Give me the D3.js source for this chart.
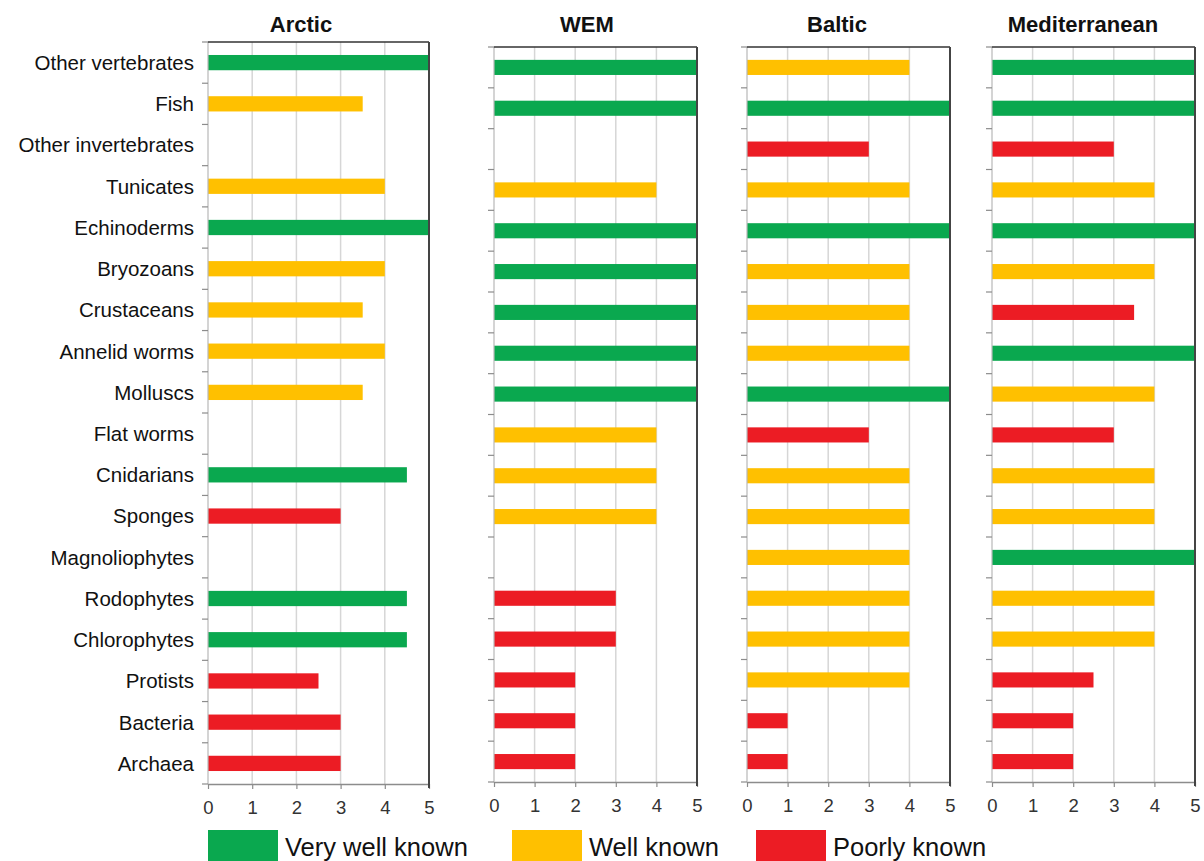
<!DOCTYPE html>
<html><head><meta charset="utf-8">
<script src="https://cdn.jsdelivr.net/npm/d3@7"></script>
<style>
html,body{margin:0;padding:0;background:#fff;}
svg{display:block;font-family:Arial,"Liberation Sans",sans-serif;}
</style></head>
<body>
<svg id="chart" width="1204" height="861"></svg>
<script>
// ---- data ----
const categories = ["Other vertebrates","Fish","Other invertebrates","Tunicates","Echinoderms","Bryozoans","Crustaceans","Annelid worms","Molluscs","Flat worms","Cnidarians","Sponges","Magnoliophytes","Rodophytes","Chlorophytes","Protists","Bacteria","Archaea"];
const regions = ["Arctic","WEM","Baltic","Mediterranean"];
// knowledge level codes: G = very well known, Y = well known, R = poorly known
const arcticValues = [5,3.5,null,4,5,4,3.5,4,3.5,null,4.5,3,null,4.5,4.5,2.5,3,3];
const arcticStatus = ["G","Y",null,"Y","G","Y","Y","Y","Y",null,"G","R",null,"G","G","R","R","R"];
const wemValues = [5,5,null,4,5,5,5,5,5,4,4,4,null,3,3,2,2,2];
const wemStatus = ["G","G",null,"Y","G","G","G","G","G","Y","Y","Y",null,"R","R","R","R","R"];
const balticValues = [4,5,3,4,5,4,4,4,5,3,4,4,4,4,4,4,1,1];
const balticStatus = ["Y","G","R","Y","G","Y","Y","Y","G","R","Y","Y","Y","Y","Y","Y","R","R"];
const medValues = [5,5,3,4,5,4,3.5,5,4,3,4,4,5,4,4,2.5,2,2];
const medStatus = ["G","G","R","Y","G","Y","R","G","Y","R","Y","Y","G","Y","Y","R","R","R"];
const xTicks = [0,1,2,3,4,5];
const legendKeys = ["G","Y","R"];
const legendLabels = ["Very well known","Well known","Poorly known"];

const regionValues = [arcticValues, wemValues, balticValues, medValues];
const regionStatus = [arcticStatus, wemStatus, balticStatus, medStatus];

// ---- styles / layout ----
const colour = d3.scaleOrdinal().domain(["G","Y","R"]).range(["#0aa84f","#ffc000","#ec1c24"]);
const panels = [
  {x0:208, x1:429, top:42, bottom:784, titleX:301},
  {x0:494, x1:697, top:47, bottom:782, titleX:587},
  {x0:747, x1:950, top:47, bottom:782, titleX:837},
  {x0:992, x1:1195, top:47, bottom:782, titleX:1083}
];

const svg = d3.select("#chart");

panels.forEach((p, i) => {
  const x = d3.scaleLinear().domain([0,5]).range([p.x0, p.x1]);
  const y = d3.scaleBand().domain(categories).range([p.top, p.bottom]).paddingInner(0).paddingOuter(0);
  const g = svg.append("g");

  // gridlines
  g.selectAll("line.grid").data(xTicks.filter(t => t > 0 && t < 5)).join("line")
    .attr("x1", d => x(d)).attr("x2", d => x(d))
    .attr("y1", p.top).attr("y2", p.bottom)
    .attr("stroke", "#d6d6d6").attr("stroke-width", 1.5);

  // bars
  const vals = regionValues[i], st = regionStatus[i];
  const rows = categories.map((c, k) => ({c, v: vals[k], s: st[k]})).filter(d => d.v != null);
  const bh = y.bandwidth() * 0.37;
  g.selectAll("rect.bar").data(rows).join("rect")
    .attr("x", x(0)).attr("width", d => x(d.v) - x(0))
    .attr("y", d => y(d.c) + (y.bandwidth() - bh) / 2).attr("height", bh)
    .attr("fill", d => colour(d.s));

  // left axis (light line with ticks at band boundaries)
  g.append("line").attr("x1", p.x0).attr("x2", p.x0).attr("y1", p.top).attr("y2", p.bottom)
    .attr("stroke", "#b8b8b8").attr("stroke-width", 1.2);
  const bounds = categories.map(c => y(c)).concat([p.bottom]);
  g.selectAll("line.ytick").data(bounds).join("line")
    .attr("x1", p.x0 - 6).attr("x2", p.x0).attr("y1", d => d).attr("y2", d => d)
    .attr("stroke", "#8c8c8c").attr("stroke-width", 1.2);

  // bottom axis
  const ax = g.append("g").attr("transform", `translate(0,${p.bottom})`)
    .call(d3.axisBottom(x).tickValues(xTicks).tickFormat(d3.format("d")).tickSize(5).tickPadding(12).tickSizeOuter(0));
  ax.select(".domain").attr("stroke", "#8c8c8c").attr("stroke-width", 1.5);
  ax.selectAll(".tick line").attr("stroke", "#8c8c8c").attr("stroke-width", 1.2);
  ax.selectAll(".tick text").attr("font-size", 18.5).attr("fill", "#333").attr("font-family", "Arial, 'Liberation Sans', sans-serif");

  // top & right borders
  g.append("line").attr("x1", p.x0).attr("x2", p.x1).attr("y1", p.top).attr("y2", p.top)
    .attr("stroke", "#333").attr("stroke-width", 1.5);
  g.append("line").attr("x1", p.x1).attr("x2", p.x1).attr("y1", p.top).attr("y2", p.bottom + 4)
    .attr("stroke", "#444").attr("stroke-width", 2);

  // title
  g.append("text").attr("x", p.titleX).attr("y", 32).attr("text-anchor", "middle")
    .attr("font-size", 22).attr("font-weight", "bold").attr("fill", "#111").text(regions[i]);

  // category labels (first panel only)
  if (i === 0) {
    g.selectAll("text.cat").data(categories).join("text")
      .attr("x", 194).attr("y", d => y(d) + y.bandwidth() / 2).attr("dy", "0.36em")
      .attr("text-anchor", "end").attr("font-size", 20.5).attr("fill", "#111").text(d => d);
  }
});

// legend
const legX = [208, 512, 756];
const lg = svg.append("g");
legendKeys.forEach((k, j) => {
  lg.append("rect").attr("x", legX[j]).attr("y", 830).attr("width", 70).attr("height", 32).attr("fill", colour(k));
  lg.append("text").attr("x", legX[j] + 77).attr("y", 856).attr("font-size", 25.5).attr("fill", "#111").text(legendLabels[j]);
});
</script>
</body></html>
